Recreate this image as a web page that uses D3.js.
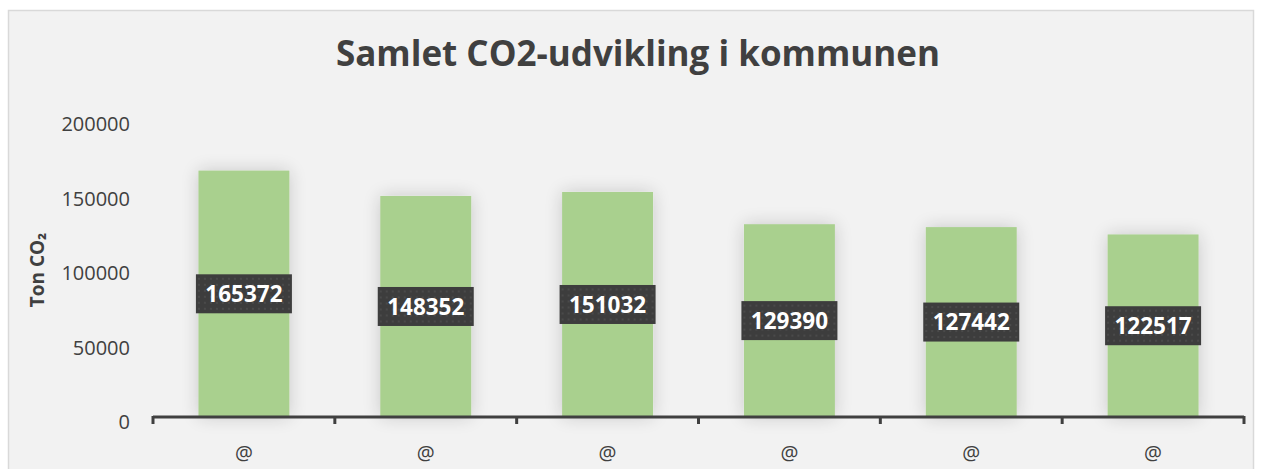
<!DOCTYPE html>
<html>
<head>
<meta charset="utf-8">
<script src="https://cdn.jsdelivr.net/npm/d3@7"></script>
<style>
  body { margin: 0; background: #fff; }
  svg { display: block; font-family: "Open Sans", "Noto Sans", sans-serif; }
</style>
</head>
<body>
<svg id="chart"></svg>
<script>
const categories = ['@', '@', '@', '@', '@', '@'];
const values = [165372, 148352, 151032, 129390, 127442, 122517];
const yTicks = [0, 50000, 100000, 150000, 200000];

const width = 1262,
	height = 469,
	margin = { left: 153, right: 18, top: 119, bottom: 52 };

const svg = d3.select('#chart').attr('width', width).attr('height', height);

const defs = svg.append('defs');
const shadow = defs.append('filter').attr('id', 'shadow')
	.attr('x', '-40%').attr('y', '-20%').attr('width', '180%').attr('height', '140%');
shadow.append('feGaussianBlur').attr('in', 'SourceAlpha').attr('stdDeviation', 9).attr('result', 'blur');
shadow.append('feComponentTransfer').attr('in', 'blur').attr('result', 'soft')
	.append('feFuncA').attr('type', 'linear').attr('slope', 0.18);
const merge = shadow.append('feMerge');
merge.append('feMergeNode').attr('in', 'soft');
merge.append('feMergeNode').attr('in', 'SourceGraphic');

const dots = defs.append('pattern').attr('id', 'dots')
	.attr('width', 6).attr('height', 6).attr('patternUnits', 'userSpaceOnUse');
dots.append('rect').attr('width', 6).attr('height', 6).attr('fill', '#3d3d3d');
dots.append('circle').attr('cx', 3).attr('cy', 3).attr('r', 1).attr('fill', '#4e4e4e');

// chart frame
svg.append('rect')
	.attr('x', 8.5).attr('y', 10.5)
	.attr('width', 1245).attr('height', 470)
	.attr('fill', '#f2f2f2').attr('stroke', '#d9d9d9').attr('stroke-width', 1.5);

const x = d3.scaleBand()
	.domain(d3.range(categories.length))
	.range([margin.left, width - margin.right])
	.paddingInner(0.5).paddingOuter(0.25);

const y = d3.scaleLinear()
	.domain([0, 200000])
	.range([height - margin.bottom, margin.top]);

// title
svg.append('text')
	.attr('x', 638).attr('y', 66)
	.attr('text-anchor', 'middle')
	.attr('font-size', 35).attr('font-weight', 700)
	.attr('fill', '#404040')
	.text('Samlet CO2-udvikling i kommunen');

// y axis label
svg.append('text')
	.attr('transform', 'translate(44,270) rotate(-90)')
	.attr('text-anchor', 'middle')
	.attr('font-size', 19).attr('font-weight', 700)
	.attr('fill', '#404040')
	.text('Ton CO₂');

// y tick labels
svg.append('g').selectAll('text')
	.data(yTicks)
	.join('text')
	.attr('x', 130).attr('y', d => y(d) + 5)
	.attr('dy', '0.35em')
	.attr('text-anchor', 'end')
	.attr('font-size', 20).attr('fill', '#404040')
	.text(d => d);

// bars
svg.append('g').selectAll('rect')
	.data(values)
	.join('rect')
	.attr('x', (d, i) => x(i))
	.attr('y', d => y(d))
	.attr('width', x.bandwidth())
	.attr('height', d => y(0) - y(d))
	.attr('fill', '#a9d08e')
	.attr('filter', 'url(#shadow)');

// x axis
const xAxis = svg.append('g').attr('transform', `translate(0,${y(0)})`);
xAxis.append('line')
	.attr('x1', margin.left).attr('x2', width - margin.right)
	.attr('stroke', '#404040').attr('stroke-width', 3);
xAxis.selectAll('.tick')
	.data(d3.range(categories.length + 1))
	.join('line')
	.attr('class', 'tick')
	.attr('x1', i => margin.left + i * x.step())
	.attr('x2', i => margin.left + i * x.step())
	.attr('y1', -1).attr('y2', 7)
	.attr('stroke', '#404040').attr('stroke-width', 3);
xAxis.selectAll('.cat')
	.data(categories)
	.join('text')
	.attr('class', 'cat')
	.attr('x', (d, i) => x(i) + x.bandwidth() / 2)
	.attr('y', 43)
	.attr('text-anchor', 'middle')
	.attr('font-size', 20).attr('fill', '#404040')
	.text(d => d);

// data labels
const labels = svg.append('g').selectAll('g')
	.data(values)
	.join('g')
	.attr('transform', (d, i) => `translate(${x(i) + x.bandwidth() / 2},${(y(d) + y(0)) / 2})`);
labels.append('rect')
	.attr('x', -48).attr('y', -19.5)
	.attr('width', 96).attr('height', 39)
	.attr('fill', 'url(#dots)');
labels.append('text')
	.attr('text-anchor', 'middle')
	.attr('dy', '0.36em')
	.attr('font-size', 22.5).attr('font-weight', 700)
	.attr('fill', '#fff')
	.text(d => d);
</script>
</body>
</html>
